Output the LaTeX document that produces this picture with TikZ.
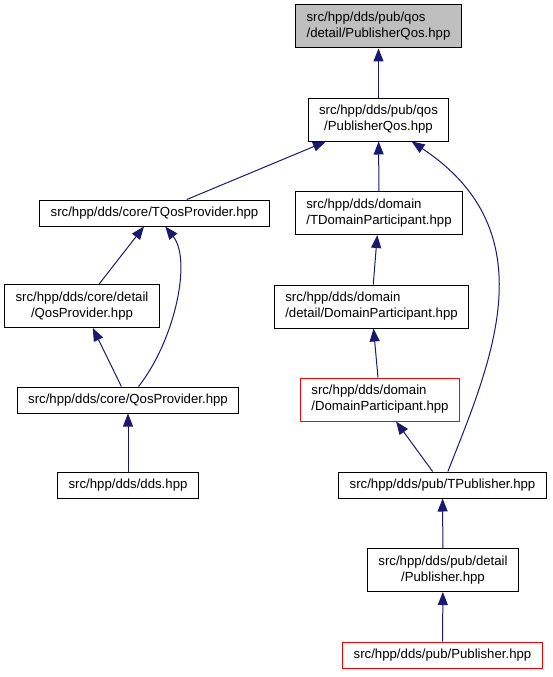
\documentclass[tikz,border=0pt]{standalone}
\usepackage{fontspec}
\setmainfont{Liberation Sans}
\usetikzlibrary{arrows.meta}
\definecolor{edgeblue}{RGB}{25,25,112}

\begin{document}
\begin{tikzpicture}[
    x=1pt, y=-1pt,
    file/.style={draw, line width=1pt, font=\fontsize{13.2}{16}\selectfont, inner xsep=11pt, inner ysep=0pt, minimum height=26pt},
    file2/.style={file, align=center, minimum height=43pt},
    lfile/.style={file2, align=left},
    root/.style={lfile, fill=black!25},
    rfile/.style={file, draw=red},
    rlfile/.style={lfile, draw=red},
    inc/.style={-{Triangle[length=13pt,width=10pt]}, edgeblue, line width=1pt}
]
\useasboundingbox (0,0) rectangle (552,677);

\node[root] (dpq) at (378.5,26.5) {src/hpp/dds/pub/qos\\/detail/PublisherQos.hpp};
\node[file2] (pq) at (378.5,119.5) {src/hpp/dds/pub/qos\\/PublisherQos.hpp};
\node[file] (tqp) at (154.5,213) {src/hpp/dds/core/TQosProvider.hpp};
\node[lfile] (tdp) at (379,213) {src/hpp/dds/domain\\/TDomainParticipant.hpp};
\node[file2] (dqp) at (82,306) {src/hpp/dds/core/detail\\/QosProvider.hpp};
\node[lfile] (ddp) at (371.5,306.5) {src/hpp/dds/domain\\/detail/DomainParticipant.hpp};
\node[file] (qp) at (128,400) {src/hpp/dds/core/QosProvider.hpp};
\node[rlfile] (dp) at (380,399.5) {src/hpp/dds/domain\\/DomainParticipant.hpp};
\node[file] (dds) at (128,485) {src/hpp/dds/dds.hpp};
\node[file] (tpub) at (442.5,485) {src/hpp/dds/pub/TPublisher.hpp};
\node[file2] (dpub) at (443,570) {src/hpp/dds/pub/detail\\/Publisher.hpp};
\node[rfile] (pub) at (442.5,655) {src/hpp/dds/pub/Publisher.hpp};

\draw[inc] (pq) -- (dpq);
\draw[inc] (tqp) -- (pq);
\draw[inc] (tdp) -- (pq);
\draw[inc] (tpub) .. controls (492,360) and (548,232) .. (pq);
\draw[inc] (dqp) -- (tqp);
\draw[inc] (qp) .. controls (175,340) and (192,260) .. (tqp);
\draw[inc] (ddp) -- (tdp);
\draw[inc] (qp) -- (dqp);
\draw[inc] (dp) -- (ddp);
\draw[inc] (dds) -- (qp);
\draw[inc] (tpub) -- (dp);
\draw[inc] (dpub) -- (tpub);
\draw[inc] (pub) -- (dpub);
\end{tikzpicture}
\end{document}
